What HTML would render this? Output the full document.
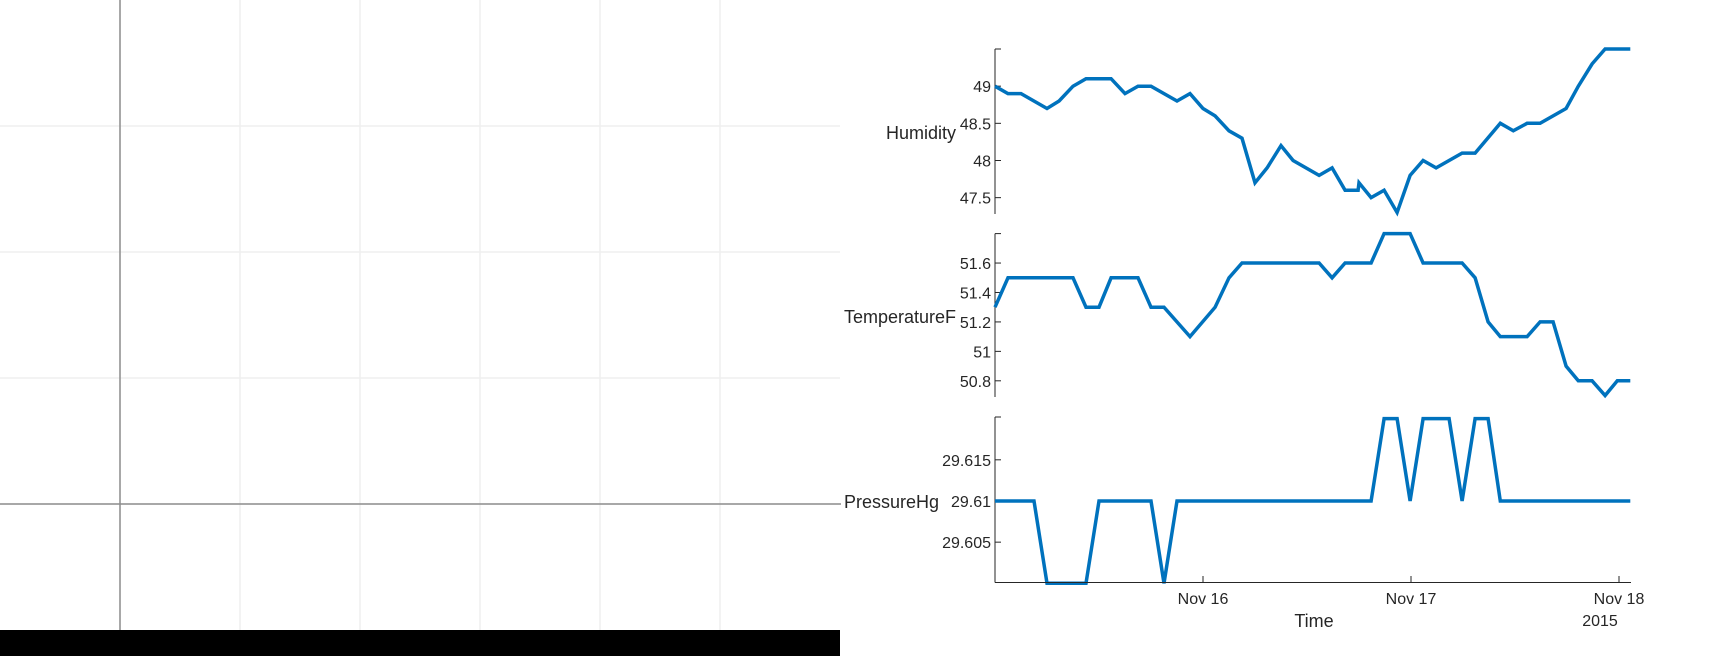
<!DOCTYPE html>
<html><head><meta charset="utf-8"><style>
html,body{margin:0;padding:0;background:#fff;width:1715px;height:656px;overflow:hidden}
svg{display:block;font-family:"Liberation Sans",Arial,sans-serif}
</style></head><body>
<svg id="chart" width="1715" height="656"></svg>
<script>
// Data (hours since Nov 15 00:00)
const humHours=[0,1.5,3,6,7.4,9,10.5,13.4,15,16.5,18,21,22.5,24,25.4,27,28.5,30,31.4,33,34.4,37.4,38.9,40.4,41.9,42,43.4,44.9,46.4,47.9,49.4,50.9,53.9,55.4,58.3,59.8,61.4,62.9,65.9,67.3,68.9,70.4,73.3];
const humValues=[49.0,48.9,48.9,48.7,48.8,49.0,49.1,49.1,48.9,49.0,49.0,48.8,48.9,48.7,48.6,48.4,48.3,47.7,47.9,48.2,48.0,47.8,47.9,47.6,47.6,47.7,47.5,47.6,47.3,47.8,48.0,47.9,48.1,48.1,48.5,48.4,48.5,48.5,48.7,49.0,49.3,49.5,49.5];
const tempHours=[0,1.5,9,10.5,12,13.4,16.5,18,19.5,22.5,25.4,27,28.5,37.4,38.9,40.4,43.4,44.9,47.9,49.4,53.9,55.4,56.9,58.3,61.4,62.9,64.4,65.9,67.3,68.9,70.4,71.8,73.3];
const tempValues=[51.3,51.5,51.5,51.3,51.3,51.5,51.5,51.3,51.3,51.1,51.3,51.5,51.6,51.6,51.5,51.6,51.6,51.8,51.8,51.6,51.6,51.5,51.2,51.1,51.1,51.2,51.2,50.9,50.8,50.8,50.7,50.8,50.8];
const presHours=[0,4.5,6,10.5,12,18,19.5,21,43.4,44.9,46.4,47.9,49.4,52.4,53.9,55.4,56.9,58.3,73.3];
const presValues=[29.61,29.61,29.60,29.60,29.61,29.61,29.60,29.61,29.61,29.62,29.62,29.61,29.62,29.62,29.61,29.62,29.62,29.61,29.61];
const humTicks=[47.5,48,48.5,49];
const humTickLabels=["47.5","48","48.5","49"];
const tempTicks=[50.8,51,51.2,51.4,51.6];
const tempTickLabels=["50.8","51","51.2","51.4","51.6"];
const presTicks=[29.605,29.61,29.615];
const presTickLabels=["29.605","29.61","29.615"];
const xTickHours=[24,48,72];
const xTickLabels=["Nov 16","Nov 17","Nov 18"];

const NS="http://www.w3.org/2000/svg";
const svg=document.getElementById('chart');
function mk(tag,attrs,parent){const e=document.createElementNS(NS,tag);for(const k in attrs)e.setAttribute(k,attrs[k]);(parent||svg).appendChild(e);return e;}

// Left empty panel
const lp=mk('g',{});


[126,252,378].forEach(y=>{const l=mk('line',{x1:0,x2:840,y1:y,y2:y,stroke:'#efefef','stroke-width':1.5},lp);});
[240,360,480,600,720].forEach(x=>{const l=mk('line',{x1:x,x2:x,y1:0,y2:630,stroke:'#efefef','stroke-width':1.5},lp);});
let ax1=mk('line',{x1:120,x2:120,y1:0,y2:630,stroke:'#8c8c8c','stroke-width':1.5},lp);

let ax2=mk('line',{x1:0,x2:841,y1:504,y2:504,stroke:'#8c8c8c','stroke-width':1.5},lp);

let bar=mk('rect',{x:0,y:630,width:840,height:26,fill:'#000'},lp);


// Stacked plot
const X0=995,X1=1631,pxPerHour=208/24;
function xs(h){return X0+h*pxPerHour;}
const panels=[
 {name:'humidity',label:'Humidity',top:49,bot:214,vmin:47.28,vmax:49.5,hours:humHours,vals:humValues,ticks:humTicks,tl:humTickLabels,labelY:133},
 {name:'temperature',label:'TemperatureF',top:233.6,bot:397,vmin:50.69,vmax:51.8,hours:tempHours,vals:tempValues,ticks:tempTicks,tl:tempTickLabels,labelY:317},
 {name:'pressure',label:'PressureHg',top:417,bot:582.5,vmin:29.6001,vmax:29.6202,hours:presHours,vals:presValues,ticks:presTicks,tl:presTickLabels,labelY:502}
];
panels.forEach(p=>{
 const g=mk('g',{});
 
 
 const ys=v=>p.bot-(v-p.vmin)/(p.vmax-p.vmin)*(p.bot-p.top);
 const ya=mk('line',{x1:X0,x2:X0,y1:p.top,y2:p.bot,stroke:'#262626','stroke-width':1},g);
 
 const tt=mk('line',{x1:X0,x2:X0+6,y1:p.top,y2:p.top,stroke:'#262626','stroke-width':1},g);
 
 p.ticks.forEach((t,i)=>{
  const y=ys(t);
  const tk=mk('line',{x1:X0,x2:X0+6,y1:y,y2:y,stroke:'#262626','stroke-width':1},g);
  
  const tx=mk('text',{x:X0-4,y:y+6,'text-anchor':'end','font-size':16,fill:'#262626'},g);
  tx.textContent=p.tl[i];
  
 });
 const lb=mk('text',{x:(p.name==='pressure'?939:956),y:p.labelY+6,'text-anchor':'end','font-size':18,fill:'#262626'},g);
 lb.textContent=p.label;
 
 const pts=p.hours.map((h,i)=>xs(h).toFixed(1)+','+ys(p.vals[i]).toFixed(1)).join(' ');
 const pl=mk('polyline',{points:pts,fill:'none',stroke:'#0072BD','stroke-width':3.5,'stroke-linejoin':'miter'},g);
 
});
// x axis
const xg=mk('g',{});


const xl=mk('line',{x1:X0,x2:X1,y1:582.5,y2:582.5,stroke:'#262626','stroke-width':1},xg);

xTickHours.forEach((h,i)=>{
 const x=xs(h);
 const tk=mk('line',{x1:x,x2:x,y1:582.5,y2:576,stroke:'#262626','stroke-width':1},xg);
 
 const tx=mk('text',{x:x,y:604,'text-anchor':'middle','font-size':16,fill:'#262626'},xg);
 tx.textContent=xTickLabels[i];
 
});
const yr=mk('text',{x:1600,y:626,'text-anchor':'middle','font-size':16,fill:'#262626'},xg);
yr.textContent='2015';

const tl=mk('text',{x:1314,y:627,'text-anchor':'middle','font-size':18,fill:'#262626'},xg);
tl.textContent='Time';

</script>
</body></html>
